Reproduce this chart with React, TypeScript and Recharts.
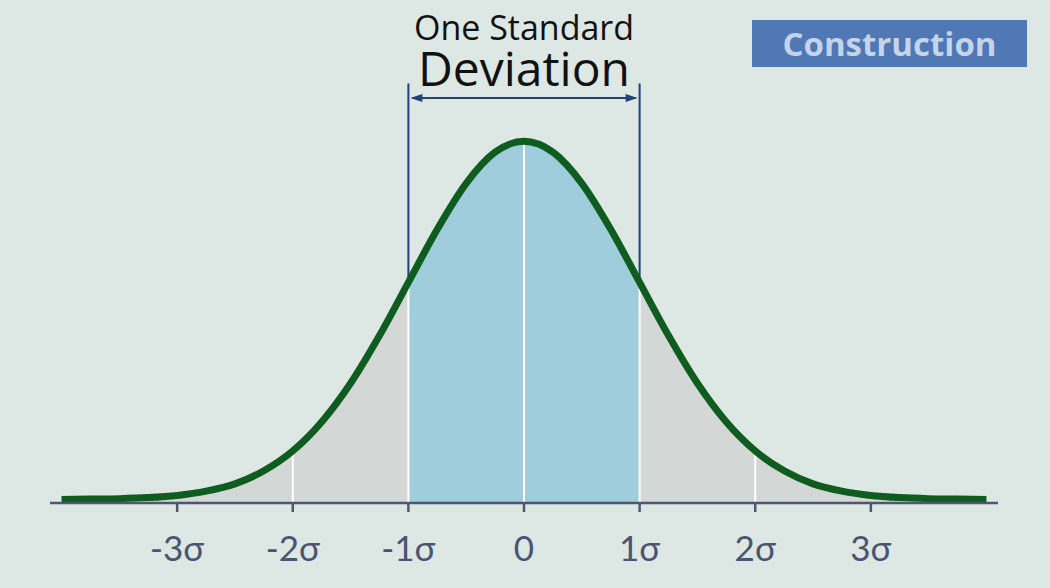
import React from "react"
import { ComposedChart, Area, Line, XAxis, YAxis, ReferenceLine } from "recharts"

// positions in sigma units, curve height as % of the peak
const sigmaX = [
  -4, -3.75, -3.5, -3.25, -3, -2.75, -2.5, -2.25, -2, -1.75, -1.5, -1.25, -1, -0.75, -0.5, -0.25, 0,
  0.25, 0.5, 0.75, 1, 1.25, 1.5, 1.75, 2, 2.25, 2.5, 2.75, 3, 3.25, 3.5, 3.75, 4,
]
const curveHeight = [
  1.0, 1.1, 1.2, 1.5, 2.1, 3.3, 5.3, 8.9, 14.4, 22.4, 33.1, 46.3, 61.0, 75.7, 88.4, 97.0, 100,
  97.0, 88.4, 75.7, 61.0, 46.3, 33.1, 22.4, 14.4, 8.9, 5.3, 3.3, 2.1, 1.5, 1.2, 1.1, 1.0,
]
const tickValues = [-3, -2, -1, 0, 1, 2, 3]
const tickLabels = ["-3σ", "-2σ", "-1σ", "0", "1σ", "2σ", "3σ"]
const dividers = [-2, -1, 0, 1, 2]
const bracketTop = 116
const arrowLevel = 112

const data = sigmaX.map((x, i) => ({
  x,
  curve: curveHeight[i],
  blue: Math.abs(x) <= 1 ? curveHeight[i] : null,
}))

const heightAt = (x: number) => curveHeight[sigmaX.indexOf(x)]

function Arrow(props: any) {
  const { x1, y1, x2 } = props
  const y = y1
  return (
    <g>
      <line x1={x1 + 4} y1={y} x2={x2 - 4} y2={y} stroke="#22417a" strokeWidth={2} />
      <polygon points={`${x1 + 2},${y} ${x1 + 14},${y - 4} ${x1 + 14},${y + 4}`} fill="#22417a" />
      <polygon points={`${x2 - 2},${y} ${x2 - 14},${y - 4} ${x2 - 14},${y + 4}`} fill="#22417a" />
    </g>
  )
}

export default function App() {
  return (
    <div
      style={{
        position: "absolute",
        left: 0,
        top: 0,
        width: 1050,
        height: 588,
        background: "#dde7e3",
        overflow: "hidden",
      }}
    >
      <ComposedChart width={1050} height={588} data={data} margin={{ top: 69, right: 52, bottom: 25, left: 50 }}>
        <XAxis
          type="number"
          dataKey="x"
          domain={[-4.1, 4.1]}
          ticks={tickValues}
          tickFormatter={(v) => tickLabels[tickValues.indexOf(v)]}
          height={60}
          axisLine={{ stroke: "#4f5670", strokeWidth: 2.5 }}
          tickLine={{ stroke: "#4f5670", strokeWidth: 2.5 }}
          tickSize={9}
          tickMargin={24}
          tick={{ fill: "#4b5472", fontSize: 35, fontFamily: "Lato" }}
        />
        <YAxis hide domain={[0, 120]} />
        <Area
          type="monotone"
          dataKey="curve"
          stroke="none"
          fill="#d3d8d6"
          fillOpacity={1}
          isAnimationActive={false}
        />
        <Area
          type="monotone"
          dataKey="blue"
          stroke="none"
          fill="#9fcddc"
          fillOpacity={1}
          isAnimationActive={false}
        />
        {dividers.map((d) => (
          <ReferenceLine
            key={d}
            segment={[
              { x: d, y: 0 },
              { x: d, y: heightAt(d) - 1 },
            ]}
            stroke="#ffffff"
            strokeWidth={2}
          />
        ))}
        {[-1, 1].map((d) => (
          <ReferenceLine
            key={"b" + d}
            segment={[
              { x: d, y: heightAt(d) },
              { x: d, y: bracketTop },
            ]}
            stroke="#22417a"
            strokeWidth={2}
          />
        ))}
        <ReferenceLine
          segment={[
            { x: -1, y: arrowLevel },
            { x: 1, y: arrowLevel },
          ]}
          shape={Arrow}
        />
        <Line
          type="monotone"
          dataKey="curve"
          stroke="#0e5c1f"
          strokeWidth={7}
          dot={false}
          isAnimationActive={false}
        />
      </ComposedChart>

      {/* two-line heading, kept in one text element */}
      <svg width={1050} height={100} style={{ position: "absolute", left: 0, top: 0 }}>
        <text x={524} textAnchor="middle" fontFamily="Open Sans" fill="#111">
          <tspan x={524} y={40} fontSize={34}>
            One Standard
          </tspan>
          <tspan x={524} y={86} fontSize={48}>
            Deviation
          </tspan>
        </text>
      </svg>

      <div
        style={{
          position: "absolute",
          left: 752,
          top: 20,
          width: 275,
          height: 47,
          background: "#4f78b5",
          color: "#c4d4ea",
          fontFamily: "Open Sans",
          fontWeight: 700,
          fontSize: 33,
          lineHeight: "47px",
          textAlign: "center",
        }}
      >
        Construction
      </div>
    </div>
  )
}
